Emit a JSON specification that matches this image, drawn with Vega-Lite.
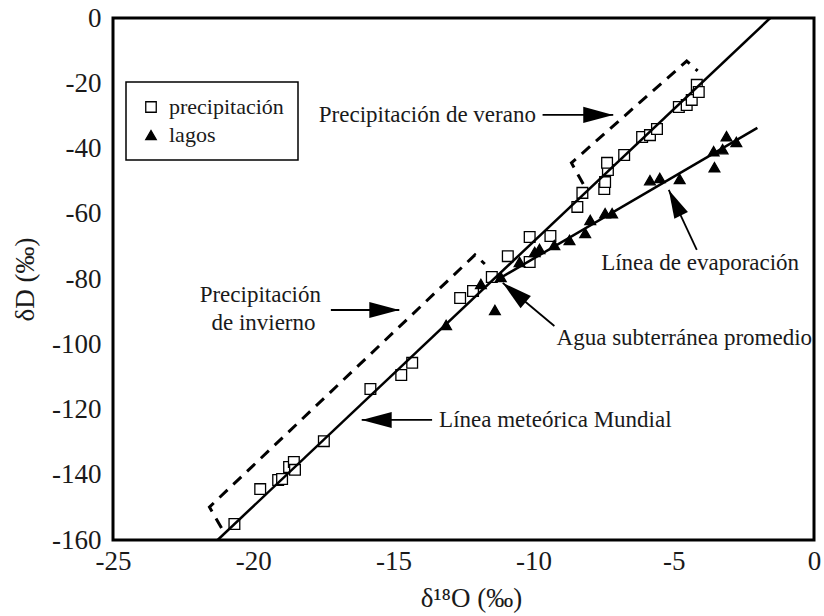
{
  "$schema": "https://vega.github.io/schema/vega-lite/v6.json",
  "width": 701,
  "height": 522,
  "autosize": {"type": "none"},
  "padding": {"left": 113, "top": 18, "right": 10, "bottom": 76},
  "background": "white",
  "config": {
    "font": "Liberation Serif",
    "view": {"stroke": "black", "strokeWidth": 3},
    "axis": {
      "domain": false,
      "ticks": false,
      "grid": false,
      "labelFont": "Liberation Serif",
      "titleFont": "Liberation Serif",
      "labelFontSize": 27,
      "labelColor": "#1a1a1a",
      "titleFontSize": 27,
      "titleFontWeight": "normal",
      "titleColor": "#1a1a1a"
    },
    "legend": {
      "orient": "none",
      "legendX": 13,
      "legendY": 64,
      "strokeColor": "black",
      "strokeWidth": 1.5,
      "fillColor": "white",
      "padding": 14,
      "rowPadding": 6,
      "labelOffset": 7,
      "labelFont": "Liberation Serif",
      "labelFontSize": 22,
      "labelColor": "#1a1a1a",
      "symbolStrokeWidth": 1.3,
      "symbolSize": 110
    }
  },
  "datasets": {
    "pts": [
      {"serie": "precipitación", "x": -20.67, "y": -155.1},
      {"serie": "precipitación", "x": -19.75, "y": -144.4},
      {"serie": "precipitación", "x": -19.11, "y": -141.6},
      {"serie": "precipitación", "x": -18.97, "y": -141.3},
      {"serie": "precipitación", "x": -18.72, "y": -137.6},
      {"serie": "precipitación", "x": -18.55, "y": -136.1},
      {"serie": "precipitación", "x": -18.51, "y": -138.5},
      {"serie": "precipitación", "x": -17.48, "y": -129.7},
      {"serie": "precipitación", "x": -15.82, "y": -113.7},
      {"serie": "precipitación", "x": -14.72, "y": -109.4},
      {"serie": "precipitación", "x": -14.33, "y": -105.7},
      {"serie": "precipitación", "x": -12.62, "y": -85.8},
      {"serie": "precipitación", "x": -12.16, "y": -83.7},
      {"serie": "precipitación", "x": -11.49, "y": -79.4},
      {"serie": "precipitación", "x": -10.92, "y": -73.0},
      {"serie": "precipitación", "x": -10.14, "y": -67.1},
      {"serie": "precipitación", "x": -10.14, "y": -74.8},
      {"serie": "precipitación", "x": -9.40, "y": -66.8},
      {"serie": "precipitación", "x": -8.44, "y": -57.9},
      {"serie": "precipitación", "x": -8.26, "y": -53.6},
      {"serie": "precipitación", "x": -7.48, "y": -52.4},
      {"serie": "precipitación", "x": -7.45, "y": -50.3},
      {"serie": "precipitación", "x": -7.35, "y": -46.6},
      {"serie": "precipitación", "x": -7.38, "y": -44.4},
      {"serie": "precipitación", "x": -6.77, "y": -42.0},
      {"serie": "precipitación", "x": -6.13, "y": -36.5},
      {"serie": "precipitación", "x": -5.85, "y": -35.9},
      {"serie": "precipitación", "x": -5.60, "y": -34.0},
      {"serie": "precipitación", "x": -4.82, "y": -27.3},
      {"serie": "precipitación", "x": -4.54, "y": -26.7},
      {"serie": "precipitación", "x": -4.36, "y": -25.1},
      {"serie": "precipitación", "x": -4.18, "y": -20.5},
      {"serie": "precipitación", "x": -4.11, "y": -22.7},
      {"serie": "lagos", "x": -13.12, "y": -94.1},
      {"serie": "lagos", "x": -11.38, "y": -89.5},
      {"serie": "lagos", "x": -11.88, "y": -81.5},
      {"serie": "lagos", "x": -11.17, "y": -79.4},
      {"serie": "lagos", "x": -10.50, "y": -74.8},
      {"serie": "lagos", "x": -9.96, "y": -71.7},
      {"serie": "lagos", "x": -9.79, "y": -70.8},
      {"serie": "lagos", "x": -9.26, "y": -69.6},
      {"serie": "lagos", "x": -8.72, "y": -68.0},
      {"serie": "lagos", "x": -8.16, "y": -65.9},
      {"serie": "lagos", "x": -7.98, "y": -61.9},
      {"serie": "lagos", "x": -7.45, "y": -59.8},
      {"serie": "lagos", "x": -7.20, "y": -59.8},
      {"serie": "lagos", "x": -5.85, "y": -49.7},
      {"serie": "lagos", "x": -5.50, "y": -49.0},
      {"serie": "lagos", "x": -4.79, "y": -49.3},
      {"serie": "lagos", "x": -3.55, "y": -45.7},
      {"serie": "lagos", "x": -3.58, "y": -40.8},
      {"serie": "lagos", "x": -3.26, "y": -40.2},
      {"serie": "lagos", "x": -3.12, "y": -36.2},
      {"serie": "lagos", "x": -2.77, "y": -38.0}
    ],
    "lineas": [
      {"linea": "meteorica", "x": -21.27, "y": -160},
      {"linea": "meteorica", "x": -1.56, "y": 0},
      {"linea": "evaporacion", "x": -11.25, "y": -80},
      {"linea": "evaporacion", "x": -2.02, "y": -33.7}
    ],
    "cajas": [
      {"caja": "verano", "orden": 1, "x": -8.23, "y": -50.9},
      {"caja": "verano", "orden": 2, "x": -8.65, "y": -44.4},
      {"caja": "verano", "orden": 3, "x": -4.54, "y": -13.2},
      {"caja": "verano", "orden": 4, "x": -4.15, "y": -16.2},
      {"caja": "invierno", "orden": 1, "x": -21.13, "y": -156.3},
      {"caja": "invierno", "orden": 2, "x": -21.56, "y": -149.9},
      {"caja": "invierno", "orden": 3, "x": -12.09, "y": -72.6},
      {"caja": "invierno", "orden": 4, "x": -11.74, "y": -75.4}
    ],
    "flechas": [
      {"nombre": "verano", "x": -9.68, "y": -29.7, "x2": -7.16, "y2": -29.7},
      {"nombre": "invierno", "x": -17.23, "y": -89.5, "x2": -14.79, "y2": -89.5},
      {"nombre": "mundial", "x": -13.62, "y": -123.2, "x2": -16.13, "y2": -123.2},
      {"nombre": "evaporacion", "x": -4.18, "y": -71.1, "x2": -5.18, "y2": -52.7},
      {"nombre": "agua", "x": -9.26, "y": -94.4, "x2": -11.10, "y2": -81.2}
    ],
    "textos": [
      {"texto": "Precipitación de verano", "x": -17.66, "y": -29.7},
      {"texto": "Línea de evaporación", "x": -7.59, "y": -75.1},
      {"texto": "Precipitación", "x": -21.91, "y": -84.9},
      {"texto": "de invierno", "x": -21.49, "y": -93.5},
      {"texto": "Agua subterránea promedio", "x": -9.18, "y": -98.1},
      {"texto": "Línea meteórica Mundial", "x": -13.37, "y": -123.2}
    ]
  },
  "layer": [
    {
      "data": {"name": "pts"},
      "mark": {"type": "point", "filled": true, "strokeWidth": 1.3, "size": 115, "opacity": 1},
      "encoding": {
        "x": {
          "field": "x", "type": "quantitative", "title": "δ¹⁸O (‰)",
          "scale": {"domain": [-25, 0], "nice": false, "zero": false},
          "axis": {
            "values": [-25, -20, -15, -10, -5, 0],
            "labelExpr": "'' + datum.value",
            "labelFont": "Liberation Serif",
            "titleFont": "Liberation Serif",
            "labelFlush": false,
            "labelPadding": 8,
            "titleX": 358,
            "titleY": 58,
            "titleBaseline": "middle",
            "titleAlign": "center"
          }
        },
        "y": {
          "field": "y", "type": "quantitative", "title": "δD (‰)",
          "scale": {"domain": [-160, 0], "nice": false, "zero": false},
          "axis": {
            "values": [-160, -140, -120, -100, -80, -60, -40, -20, 0],
            "labelExpr": "'' + datum.value",
            "labelFont": "Liberation Serif",
            "titleFont": "Liberation Serif",
            "labelPadding": 12,
            "titleX": -88,
            "titleY": 261,
            "titleAngle": 270,
            "titleBaseline": "middle",
            "titleAlign": "center"
          }
        },
        "shape": {
          "field": "serie", "type": "nominal",
          "scale": {"domain": ["precipitación", "lagos"], "range": ["square", "triangle-up"]},
          "legend": {"title": null}
        },
        "fill": {
          "field": "serie", "type": "nominal",
          "scale": {"domain": ["precipitación", "lagos"], "range": ["white", "black"]},
          "legend": {"title": null}
        },
        "stroke": {
          "field": "serie", "type": "nominal",
          "scale": {"domain": ["precipitación", "lagos"], "range": ["black", "black"]},
          "legend": {"title": null}
        }
      }
    },
    {
      "data": {"name": "cajas"},
      "mark": {"type": "line", "color": "black", "strokeWidth": 3, "strokeDash": [11, 8]},
      "encoding": {
        "x": {"field": "x", "type": "quantitative", "title": "δ¹⁸O (‰)"},
        "y": {"field": "y", "type": "quantitative", "title": "δD (‰)"},
        "detail": {"field": "caja"},
        "order": {"field": "orden", "type": "quantitative"}
      }
    },
    {
      "data": {"name": "lineas"},
      "mark": {"type": "line", "color": "black", "strokeWidth": 2.5},
      "encoding": {
        "x": {"field": "x", "type": "quantitative", "title": "δ¹⁸O (‰)"},
        "y": {"field": "y", "type": "quantitative", "title": "δD (‰)"},
        "detail": {"field": "linea"}
      }
    },
    {
      "data": {"name": "flechas"},
      "mark": {"type": "rule", "color": "black", "strokeWidth": 1.8},
      "encoding": {
        "x": {"field": "x", "type": "quantitative", "title": "δ¹⁸O (‰)"},
        "y": {"field": "y", "type": "quantitative", "title": "δD (‰)"},
        "x2": {"field": "x2"},
        "y2": {"field": "y2"}
      }
    },
    {
      "data": {"name": "flechas"},
      "transform": [{"filter": "datum.nombre === 'verano' || datum.nombre === 'invierno'"}],
      "mark": {"type": "point", "shape": "M0,0L1.07,4L-1.07,4Z", "size": 225, "filled": true, "color": "black", "opacity": 1, "angle": 90},
      "encoding": {
        "x": {"field": "x2", "type": "quantitative", "title": "δ¹⁸O (‰)"},
        "y": {"field": "y2", "type": "quantitative", "title": "δD (‰)"}
      }
    },
    {
      "data": {"name": "flechas"},
      "transform": [{"filter": "datum.nombre === 'mundial'"}],
      "mark": {"type": "point", "shape": "M0,0L1.07,4L-1.07,4Z", "size": 225, "filled": true, "color": "black", "opacity": 1, "angle": 270},
      "encoding": {
        "x": {"field": "x2", "type": "quantitative", "title": "δ¹⁸O (‰)"},
        "y": {"field": "y2", "type": "quantitative", "title": "δD (‰)"}
      }
    },
    {
      "data": {"name": "flechas"},
      "transform": [{"filter": "datum.nombre === 'evaporacion'"}],
      "mark": {"type": "point", "shape": "M0,0L1.07,4L-1.07,4Z", "size": 200, "filled": true, "color": "black", "opacity": 1, "angle": 334},
      "encoding": {
        "x": {"field": "x2", "type": "quantitative", "title": "δ¹⁸O (‰)"},
        "y": {"field": "y2", "type": "quantitative", "title": "δD (‰)"}
      }
    },
    {
      "data": {"name": "flechas"},
      "transform": [{"filter": "datum.nombre === 'agua'"}],
      "mark": {"type": "point", "shape": "M0,0L1.07,4L-1.07,4Z", "size": 225, "filled": true, "color": "black", "opacity": 1, "angle": 310},
      "encoding": {
        "x": {"field": "x2", "type": "quantitative", "title": "δ¹⁸O (‰)"},
        "y": {"field": "y2", "type": "quantitative", "title": "δD (‰)"}
      }
    },
    {
      "data": {"name": "textos"},
      "mark": {"type": "text", "align": "left", "baseline": "middle", "font": "Liberation Serif", "fontSize": 23, "color": "#1a1a1a"},
      "encoding": {
        "x": {"field": "x", "type": "quantitative", "title": "δ¹⁸O (‰)"},
        "y": {"field": "y", "type": "quantitative", "title": "δD (‰)"},
        "text": {"field": "texto"}
      }
    }
  ]
}
